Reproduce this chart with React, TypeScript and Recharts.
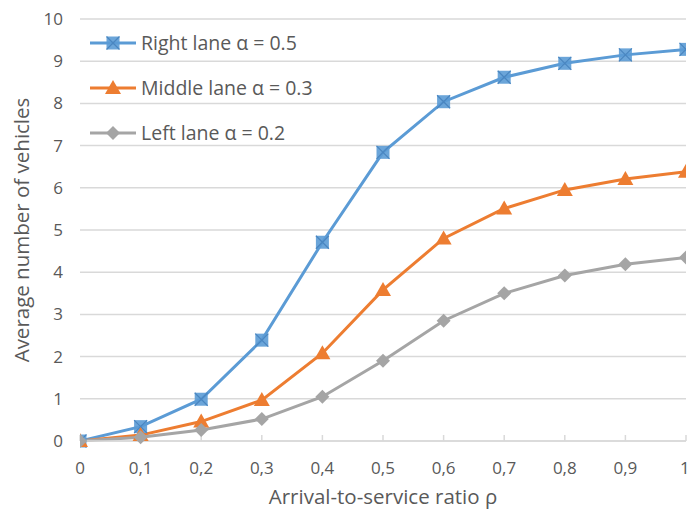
import React from 'react';
import { LineChart, Line, XAxis, YAxis, CartesianGrid } from 'recharts';

const ratios = [0, 0.1, 0.2, 0.3, 0.4, 0.5, 0.6, 0.7, 0.8, 0.9, 1];
const rightLane = [0, 0.34, 0.99, 2.39, 4.71, 6.84, 8.04, 8.62, 8.95, 9.15, 9.28];
const middleLane = [0, 0.14, 0.46, 0.97, 2.08, 3.58, 4.8, 5.51, 5.95, 6.21, 6.38];
const leftLane = [0, 0.09, 0.26, 0.52, 1.05, 1.9, 2.85, 3.5, 3.92, 4.19, 4.35];
const yTicks = [0, 1, 2, 3, 4, 5, 6, 7, 8, 9, 10];
const seriesNames = ['Right lane α = 0.5', 'Middle lane α = 0.3', 'Left lane α = 0.2'];
const colors = ['#5B9BD5', '#ED7D31', '#A5A5A5'];

const data = ratios.map((r, i) => ({ r, right: rightLane[i], middle: middleLane[i], left: leftLane[i] }));

const FONT = '"Open Sans", sans-serif';
const TEXT = '#595959';

function SquareX({ cx, cy, color }: any) {
  if (cx == null || cy == null) return null;
  const s = 6.5;
  return (
    <g>
      <rect x={cx - s} y={cy - s} width={2 * s} height={2 * s} fill={color} opacity={0.9} />
      <path d={`M${cx - s} ${cy - s}L${cx + s} ${cy + s}M${cx + s} ${cy - s}L${cx - s} ${cy + s}`} stroke="#4a86c0" strokeWidth={1.2} />
    </g>
  );
}
function Tri({ cx, cy, color }: any) {
  if (cx == null || cy == null) return null;
  const s = 8;
  return <path d={`M${cx} ${cy - s}L${cx + s} ${cy + s * 0.75}L${cx - s} ${cy + s * 0.75}Z`} fill={color} />;
}
function Diamond({ cx, cy, color }: any) {
  if (cx == null || cy == null) return null;
  const s = 7;
  return <path d={`M${cx} ${cy - s}L${cx + s} ${cy}L${cx} ${cy + s}L${cx - s} ${cy}Z`} fill={color} />;
}
const markers = [SquareX, Tri, Diamond];

function LegendBox() {
  return (
    <div style={{ position: 'absolute', left: 88, top: 20, fontFamily: FONT, fontSize: 19.5, color: TEXT, whiteSpace: 'nowrap' }}>
      {seriesNames.map((n, i) => {
        const M = markers[i];
        return (
          <div key={n} style={{ display: 'flex', alignItems: 'center', height: 45 }}>
            <svg width={50} height={20} style={{ display: 'block' }}>
              <line x1={2} y1={10} x2={48} y2={10} stroke={colors[i]} strokeWidth={3} />
              <M cx={25} cy={10} color={colors[i]} />
            </svg>
            <span style={{ marginLeft: 3 }}>{n}</span>
          </div>
        );
      })}
    </div>
  );
}

export default function App() {
  return (
    <div style={{ position: 'absolute', left: 0, top: 0, width: 689, height: 513, background: '#fff' }}>
      <LineChart width={689} height={513} data={data} margin={{ top: 19, right: 3, left: 0, bottom: 0 }}>
        <CartesianGrid vertical={false} stroke="#d9d9d9" strokeWidth={1.5} />
        <XAxis
          dataKey="r"
          type="number"
          domain={[0, 1]}
          ticks={ratios}
          tickFormatter={(v: number) => String(v).replace('.', ',')}
          height={72}
          stroke="#d9d9d9"
          strokeWidth={1.5}
          tickSize={-6}
          tickMargin={27}
          tick={{ fill: TEXT, fontFamily: FONT, fontSize: 17 }}
          label={{ value: 'Arrival-to-service ratio ρ', position: 'insideBottom', offset: 9, fill: TEXT, fontFamily: FONT, fontSize: 20.5 }}
          allowDataOverflow
        />
        <YAxis
          domain={[0, 10]}
          ticks={yTicks}
          width={80}
          axisLine={false}
          tickLine={false}
          tickSize={0}
          tickMargin={17}
          tick={{ fill: TEXT, fontFamily: FONT, fontSize: 17 }}
          label={{ value: 'Average number of vehicles', angle: -90, position: 'insideLeft', offset: 22, fill: TEXT, fontFamily: FONT, fontSize: 20.5, style: { textAnchor: 'middle' } }}
        />
        <Line dataKey="right" stroke={colors[0]} strokeWidth={3} isAnimationActive={false} dot={(p: any) => <SquareX key={p.index} cx={p.cx} cy={p.cy} color={colors[0]} />} activeDot={false} />
        <Line dataKey="middle" stroke={colors[1]} strokeWidth={3} isAnimationActive={false} dot={(p: any) => <Tri key={p.index} cx={p.cx} cy={p.cy} color={colors[1]} />} activeDot={false} />
        <Line dataKey="left" stroke={colors[2]} strokeWidth={3} isAnimationActive={false} dot={(p: any) => <Diamond key={p.index} cx={p.cx} cy={p.cy} color={colors[2]} />} activeDot={false} />
      </LineChart>
      <LegendBox />
    </div>
  );
}
